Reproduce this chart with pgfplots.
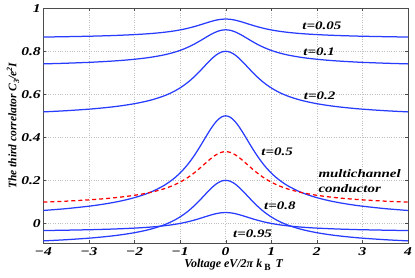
\documentclass[border=0pt]{standalone}
\usepackage{pgfplots}
\pgfplotsset{compat=1.18}
\usepackage{pgfplotstable}
\usepackage{fontspec}
\setmainfont{Liberation Serif}[FakeStretch=1.3]
\newfontfamily\ylfont{Liberation Serif}
\definecolor{mblue}{RGB}{40,60,255}
\pgfplotstableread{
v a b c d e f m
-4.0 0.8663 0.7415 0.5182 0.0597 -0.0818 -0.0337 0.0985
-3.5 0.8680 0.7446 0.5237 0.0682 -0.0763 -0.0320 0.1030
-3.0 0.8701 0.7486 0.5309 0.0796 -0.0691 -0.0299 0.1091
-2.75 0.8715 0.7513 0.5356 0.0868 -0.0644 -0.0285 0.1130
-2.5 0.8731 0.7544 0.5411 0.0955 -0.0589 -0.0269 0.1176
-2.25 0.8752 0.7582 0.5479 0.1061 -0.0521 -0.0248 0.1233
-2.0 0.8777 0.7630 0.5564 0.1194 -0.0436 -0.0223 0.1303
-1.8 0.8802 0.7677 0.5649 0.1326 -0.0351 -0.0198 0.1374
-1.6 0.8833 0.7737 0.5754 0.1491 -0.0246 -0.0167 0.1462
-1.4 0.8873 0.7812 0.5889 0.1701 -0.0111 -0.0127 0.1574
-1.3 0.8898 0.7858 0.5971 0.1829 -0.0029 -0.0102 0.1642
-1.2 0.8925 0.7911 0.6064 0.1976 0.0064 -0.0075 0.1720
-1.1 0.8957 0.7972 0.6173 0.2145 0.0173 -0.0043 0.1811
-1.0 0.8995 0.8042 0.6298 0.2340 0.0298 -0.0005 0.1915
-0.9 0.9037 0.8124 0.6442 0.2565 0.0442 0.0037 0.2035
-0.8 0.9087 0.8217 0.6607 0.2824 0.0607 0.0087 0.2173
-0.7 0.9142 0.8322 0.6795 0.3117 0.0795 0.0142 0.2329
-0.6 0.9204 0.8439 0.7003 0.3442 0.1003 0.0204 0.2502
-0.5 0.9270 0.8564 0.7225 0.3790 0.1225 0.0270 0.2688
-0.4 0.9337 0.8692 0.7452 0.4143 0.1452 0.0337 0.2876
-0.3 0.9400 0.8811 0.7664 0.4475 0.1664 0.0400 0.3053
-0.2 0.9453 0.8910 0.7841 0.4751 0.1841 0.0453 0.3201
-0.1 0.9488 0.8977 0.7958 0.4935 0.1958 0.0488 0.3299
0.0 0.9500 0.9000 0.8000 0.5000 0.2000 0.0500 0.3333
0.1 0.9488 0.8977 0.7958 0.4935 0.1958 0.0488 0.3299
0.2 0.9453 0.8910 0.7841 0.4751 0.1841 0.0453 0.3201
0.3 0.9400 0.8811 0.7664 0.4475 0.1664 0.0400 0.3053
0.4 0.9337 0.8692 0.7452 0.4143 0.1452 0.0337 0.2876
0.5 0.9270 0.8564 0.7225 0.3790 0.1225 0.0270 0.2688
0.6 0.9204 0.8439 0.7003 0.3442 0.1003 0.0204 0.2502
0.7 0.9142 0.8322 0.6795 0.3117 0.0795 0.0142 0.2329
0.8 0.9087 0.8217 0.6607 0.2824 0.0607 0.0087 0.2173
0.9 0.9037 0.8124 0.6442 0.2565 0.0442 0.0037 0.2035
1.0 0.8995 0.8042 0.6298 0.2340 0.0298 -0.0005 0.1915
1.1 0.8957 0.7972 0.6173 0.2145 0.0173 -0.0043 0.1811
1.2 0.8925 0.7911 0.6064 0.1976 0.0064 -0.0075 0.1720
1.3 0.8898 0.7858 0.5971 0.1829 -0.0029 -0.0102 0.1642
1.4 0.8873 0.7812 0.5889 0.1701 -0.0111 -0.0127 0.1574
1.6 0.8833 0.7737 0.5754 0.1491 -0.0246 -0.0167 0.1462
1.8 0.8802 0.7677 0.5649 0.1326 -0.0351 -0.0198 0.1374
2.0 0.8777 0.7630 0.5564 0.1194 -0.0436 -0.0223 0.1303
2.25 0.8752 0.7582 0.5479 0.1061 -0.0521 -0.0248 0.1233
2.5 0.8731 0.7544 0.5411 0.0955 -0.0589 -0.0269 0.1176
2.75 0.8715 0.7513 0.5356 0.0868 -0.0644 -0.0285 0.1130
3.0 0.8701 0.7486 0.5309 0.0796 -0.0691 -0.0299 0.1091
3.5 0.8680 0.7446 0.5237 0.0682 -0.0763 -0.0320 0.1030
4.0 0.8663 0.7415 0.5182 0.0597 -0.0818 -0.0337 0.0985
}\datatab
\begin{document}
\begin{tikzpicture}
\path[use as bounding box] (-43.3pt,-33.7pt) rectangle (371.7pt,243.3pt);
\begin{axis}[
  at={(0,0)}, anchor=south west,
  scale only axis, width=364.7pt, height=235pt,
  xmin=-4, xmax=4, ymin=-0.093, ymax=1,
  xtick={-4,-3,-2,-1,0,1,2,3,4},
  xticklabels={−4,−3,−2,−1,0,1,2,3,4},
  ytick={0,0.2,0.4,0.6,0.8,1},
  yticklabels={0,0.2,0.4,0.6,0.8,1},
  tick label style={font=\fontsize{12}{13}\selectfont\bfseries\itshape},
  xticklabel style={yshift=-0.5pt},
  yticklabel style={xshift=1pt},
  tick align=inside, tick pos=both, major tick length=3pt,
  grid=major, grid style={dotted, gray!50, line width=0.35pt},
  axis line style={black!70}, tick style={black!70},
  xlabel={Voltage eV/2π k\,\raisebox{-0.6ex}{\fontsize{9.5}{10}\selectfont\upshape B}\, T},
  xlabel style={at={(axis description cs:0.522,-0.102)}, anchor=base, font=\ylfont\fontsize{12}{13}\selectfont\bfseries\itshape},
  ylabel={The third correlator C\raisebox{-0.5ex}{\fontsize{8}{9}\selectfont 3}/e\raisebox{0.8ex}{\fontsize{8}{9}\selectfont 2}I},
  ylabel style={at={(axis description cs:-0.083,0.5)}, anchor=center, font=\ylfont\fontsize{11.5}{12}\selectfont\bfseries\itshape},
  every axis plot/.append style={line width=1.25pt},
]
\addplot[mblue, smooth] table[x=v,y=a] {\datatab};
\addplot[mblue, smooth] table[x=v,y=b] {\datatab};
\addplot[mblue, smooth] table[x=v,y=c] {\datatab};
\addplot[mblue, smooth] table[x=v,y=d] {\datatab};
\addplot[red, smooth, dash pattern=on 4pt off 3pt] table[x=v,y=m] {\datatab};
\addplot[mblue, smooth] table[x=v,y=e] {\datatab};
\addplot[mblue, smooth] table[x=v,y=f] {\datatab};
\begin{scope}[every node/.style={font=\fontsize{11.5}{12}\selectfont\bfseries\itshape}]
\node at (axis cs:2.11,0.918) {t=0.05};
\node at (axis cs:2.05,0.798) {t=0.1};
\node at (axis cs:2.06,0.594) {t=0.2};
\node at (axis cs:1.13,0.333) {t=0.5};
\node[anchor=west] at (axis cs:1.96,0.229) {multichannel};
\node[anchor=west] at (axis cs:1.96,0.160) {conductor};
\node at (axis cs:1.19,0.082) {t=0.8};
\node at (axis cs:0.59,-0.047) {t=0.95};
\end{scope}
\end{axis}
\end{tikzpicture}
\end{document}
